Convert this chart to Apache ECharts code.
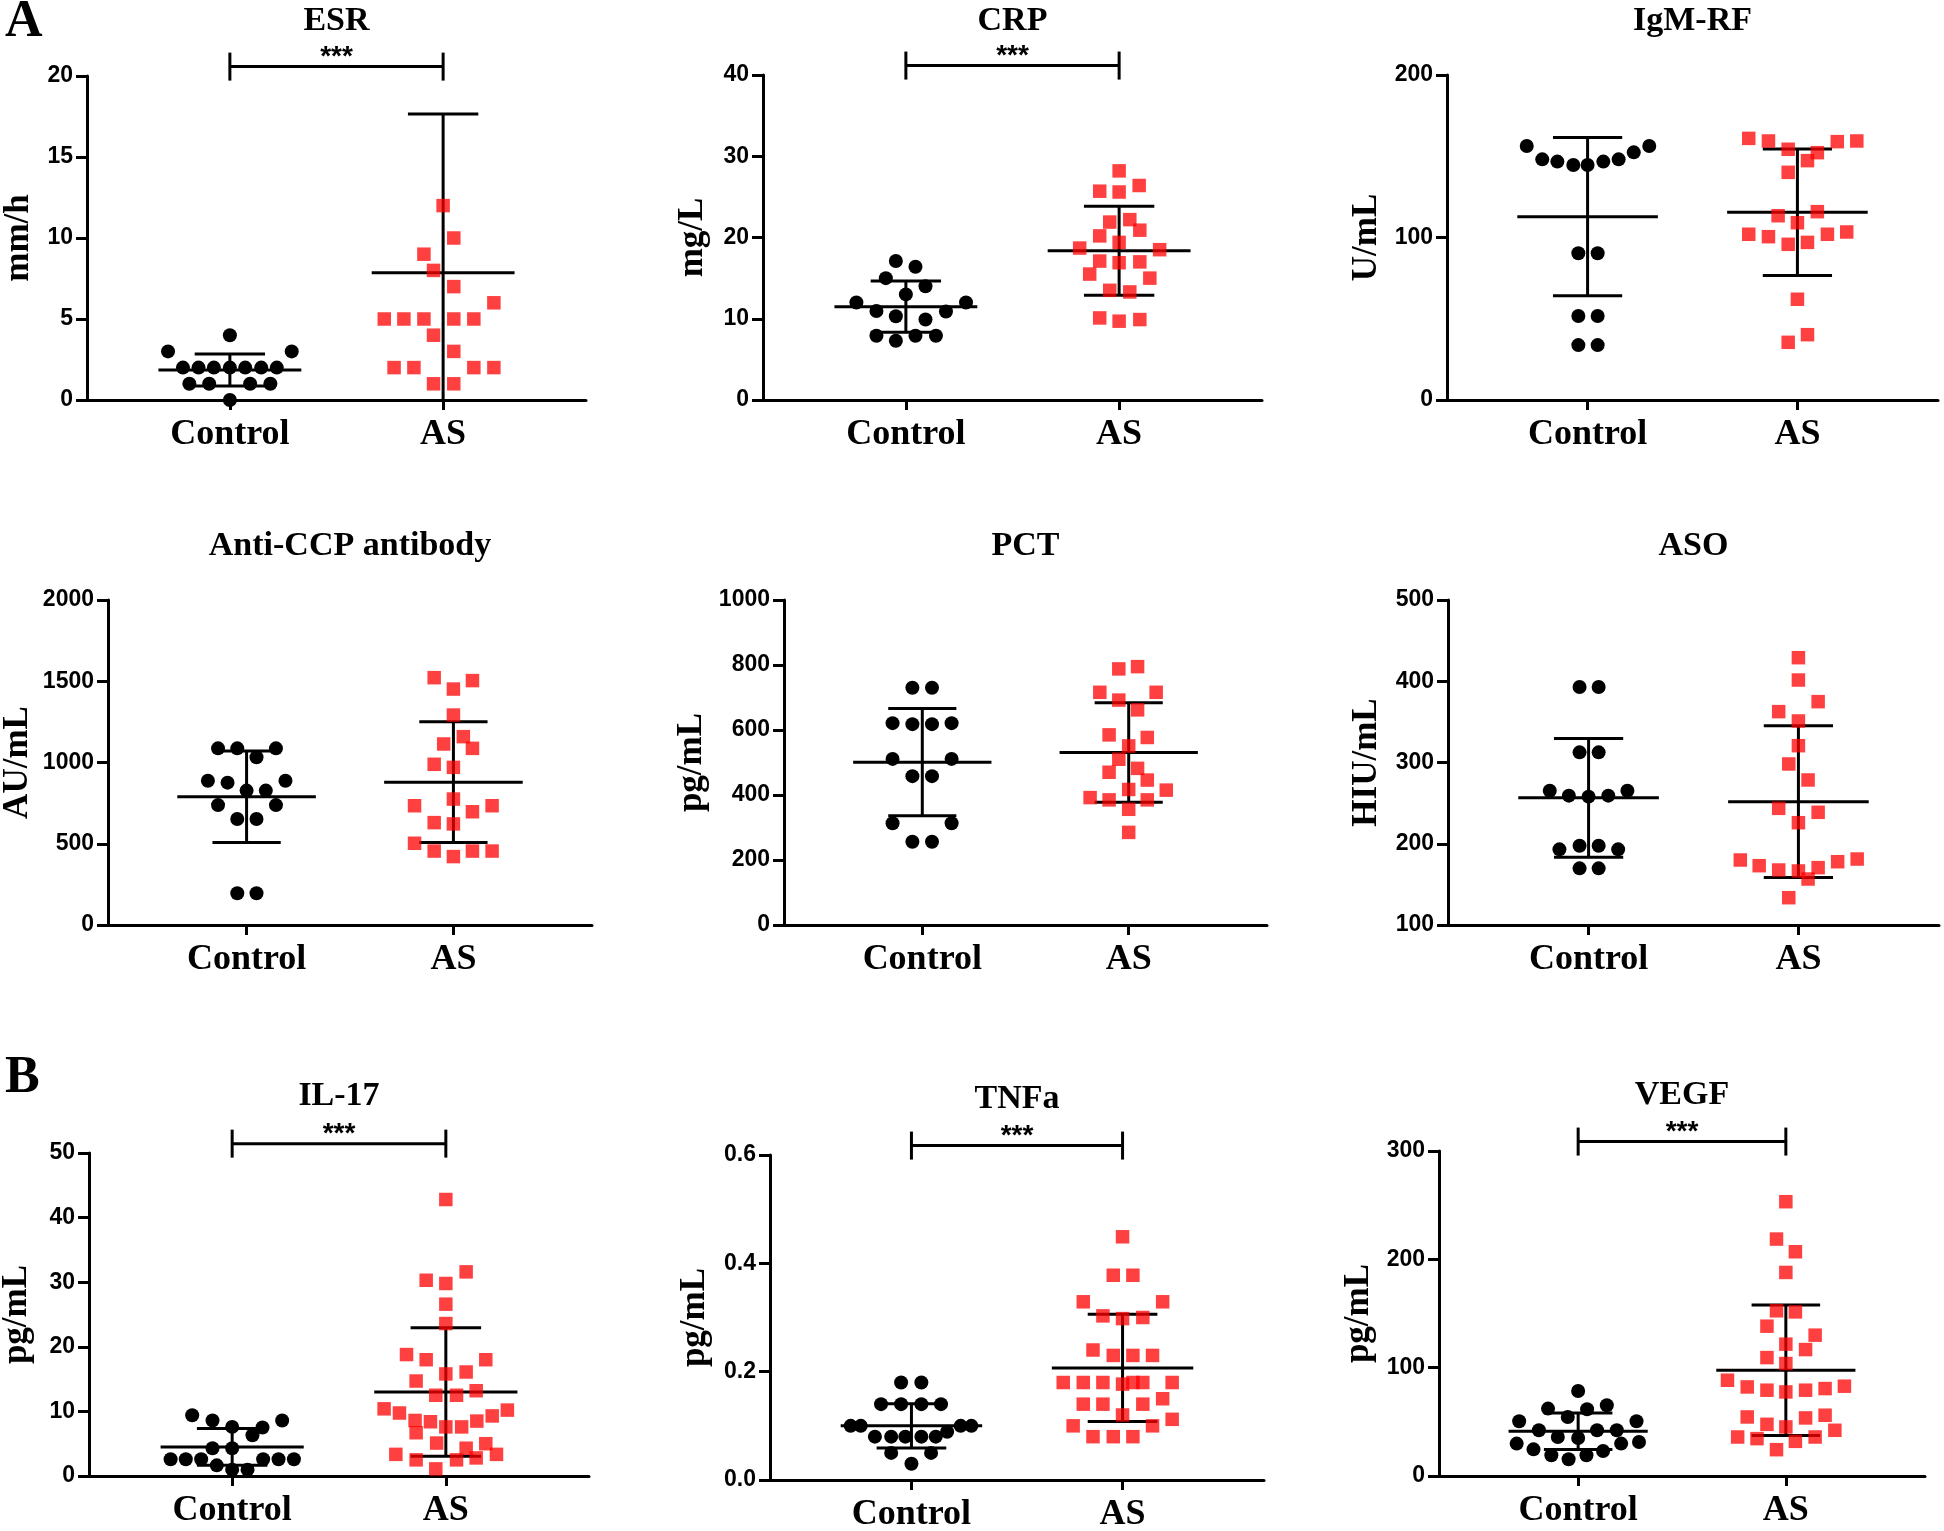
<!DOCTYPE html>
<html>
<head>
<meta charset="utf-8">
<script src="https://cdn.jsdelivr.net/npm/echarts@6/dist/echarts.min.js"></script>
<style>
html,body{margin:0;padding:0;background:#fff;}
#chart{width:1944px;height:1531px;}
</style>
</head>
<body>
<div id="chart"></div>
<script>
// ---------- DATA ----------
const groups = ['Control', 'AS'];

// ESR (mm/h)
const esrControl = [4, 3, 3, 2, 2, 2, 2, 2, 2, 2, 1, 1, 1, 1, 0];
const esrControlJitter = [0, -0.29, 0.29, -0.22, -0.147, -0.075, 0, 0.072, 0.147, 0.22, -0.19, -0.097, 0.095, 0.19, 0];
const esrAS = [12, 10, 9, 8, 7, 6, 5, 5, 5, 5, 5, 4, 3, 2, 2, 2, 2, 1, 1];
const esrASJitter = [0, 0.05, -0.09, -0.045, 0.05, 0.238, -0.276, -0.184, -0.09, 0.05, 0.144, -0.045, 0.05, -0.23, -0.137, 0.144, 0.238, -0.045, 0.05];
const esrMean = [1.85, 7.86];
const esrSD = [0.99, 9.8];
const esrTicks = [0, 5, 10, 15, 20];

// CRP (mg/L)
const crpControl = [17.1, 16.4, 15.0, 14.0, 13.0, 12.0, 12.0, 10.95, 10.9, 10.3, 9.9, 7.9, 7.9, 7.9, 7.3];
const crpControlJitter = [-0.047, 0.045, -0.094, 0.092, 0, -0.232, 0.282, -0.138, 0.188, -0.047, 0.092, -0.138, 0.045, 0.141, -0.047];
const crpAS = [28.2, 25.7, 25.6, 26.4, 21.9, 22.2, 20.9, 20.2, 19.4, 18.7, 18.5, 17.1, 16.9, 17.0, 15.5, 15.0, 13.5, 13.3, 10.1, 9.7, 9.9];
const crpASJitter = [0, -0.091, 0, 0.094, -0.044, 0.05, 0.097, -0.091, 0, -0.185, 0.19, -0.091, 0, 0.097, -0.138, 0.144, -0.044, 0.05, -0.091, 0, 0.097];
const crpMean = [11.49, 18.38];
const crpSD = [3.16, 5.48];
const crpTicks = [0, 10, 20, 30, 40];

// IgM-RF (U/mL)
const igmControl = [156.3, 148.1, 146.7, 144.6, 144.6, 146.7, 148.1, 152.4, 156.3, 90.3, 90.3, 51.7, 51.7, 33.8, 33.8];
const igmControlJitter = [-0.29, -0.216, -0.144, -0.068, 0, 0.075, 0.148, 0.22, 0.294, -0.044, 0.048, -0.044, 0.048, -0.044, 0.048];
const igmAS = [161.0, 159.4, 154.3, 152.2, 159.0, 159.4, 147.3, 140.1, 113.4, 115.9, 109.1, 102.0, 100.5, 95.8, 97.0, 102.0, 103.4, 62.0, 40.2, 35.5];
const igmASJitter = [-0.232, -0.138, -0.044, 0.095, 0.19, 0.283, 0.048, -0.044, -0.092, 0.095, 0, -0.232, -0.138, -0.044, 0.048, 0.143, 0.235, 0, 0.048, -0.044];
const igmMean = [112.8, 115.5];
const igmSD = [48.7, 38.9];
const igmTicks = [0, 100, 200];

// Anti-CCP antibody (AU/mL)
const ccpControl = [1087, 1087, 1087, 1032, 888, 876, 888, 827, 827, 738, 738, 652, 652, 195, 195];
const ccpControlJitter = [-0.138, -0.045, 0.142, 0.048, -0.187, -0.092, 0.188, 0, 0.093, -0.138, 0.142, -0.045, 0.048, -0.045, 0.048];
const ccpAS = [1522, 1504, 1452, 1292, 1159, 1114, 1087, 989, 970, 775, 734, 734, 697, 630, 622, 503, 455, 455, 455, 421];
const ccpASJitter = [-0.093, 0.092, 0, 0, 0.048, -0.047, 0.092, -0.093, 0, 0, -0.188, 0.187, 0.092, -0.093, 0, -0.188, -0.093, 0.092, 0.187, 0];
const ccpMean = [789, 879];
const ccpSD = [282, 372];
const ccpTicks = [0, 500, 1000, 1500, 2000];

// PCT (pg/mL)
const pctControl = [730, 730, 621, 618, 618, 621, 511, 511, 458, 458, 313, 313, 256, 256];
const pctControlJitter = [-0.048, 0.047, -0.144, -0.048, 0.047, 0.142, -0.144, 0.142, -0.048, 0.047, -0.144, 0.142, -0.048, 0.047];
const pctAS = [788, 795, 716, 716, 692, 662, 585, 577, 551, 510, 482, 470, 446, 417, 415, 392, 385, 385, 356, 285];
const pctASJitter = [-0.048, 0.043, -0.14, 0.133, -0.048, 0.043, -0.095, 0.09, 0, -0.048, 0.043, -0.095, 0.09, 0, 0.182, -0.187, -0.095, 0.09, 0, 0];
const pctMean = [501, 531];
const pctSD = [165, 153];
const pctTicks = [0, 200, 400, 600, 800, 1000];

// ASO (HIU/mL)
const asoControl = [393, 393, 312.5, 312.5, 265.3, 265.3, 259.2, 258, 259.2, 197.6, 197.6, 193.1, 193.1, 169.7, 169.7];
const asoControlJitter = [-0.043, 0.048, -0.043, 0.048, -0.185, 0.185, -0.094, 0, 0.094, -0.043, 0.048, -0.139, 0.141, -0.043, 0.048];
const asoAS = [429, 401.5, 374.9, 362.6, 351.1, 320.7, 298.2, 278.5, 243.6, 238.7, 225.9, 180, 181.2, 177.9, 173, 167.7, 166.5, 170.6, 156.6, 133.6];
const asoASJitter = [0, 0, 0.094, -0.094, 0, 0, -0.046, 0.046, -0.094, 0.094, 0, -0.277, 0.28, 0.187, -0.187, -0.094, 0, 0.094, 0.046, -0.046];
const asoMean = [256.5, 251.8];
const asoSD = [73, 93.3];
const asoTicks = [100, 200, 300, 400, 500];

// IL-17 (pg/mL)
const il17Control = [9.4, 8.6, 8.6, 7.6, 7.5, 6.3, 4.3, 4.3, 2.6, 2.6, 2.6, 2.6, 2.6, 2.6, 1.65, 0.98, 0.98];
const il17ControlJitter = [-0.187, -0.092, 0.234, 0, 0.142, 0.095, -0.092, 0, -0.288, -0.217, -0.145, 0.145, 0.217, 0.289, -0.072, 0, 0.072];
const il17AS = [42.8, 31.6, 30.3, 29.8, 26.6, 23.6, 18.8, 18.0, 18.0, 15.8, 16.1, 14.7, 12.5, 12.5, 13.2, 10.4, 9.75, 10.2, 9.3, 8.6, 8.4, 8.5, 7.6, 7.6, 6.7, 5.1, 4.3, 5.0, 3.35, 3.35, 2.5, 2.5, 2.8, 1.1];
const il17ASJitter = [0, 0.095, -0.092, 0, 0, 0, -0.184, -0.092, 0.187, 0, 0.095, -0.139, -0.047, 0.05, 0.142, -0.289, -0.217, 0.288, 0.217, -0.144, -0.072, 0.145, 0, 0.074, -0.139, -0.043, 0.095, 0.187, -0.234, 0.237, -0.139, 0.05, 0.142, -0.047];
const il17Mean = [4.5, 13.0];
const il17SD = [2.84, 9.96];
const il17Ticks = [0, 10, 20, 30, 40, 50];

// TNFa (pg/mL)
const tnfControl = [0.18, 0.18, 0.14, 0.14, 0.14, 0.14, 0.1, 0.1, 0.1, 0.1, 0.089, 0.08, 0.08, 0.08, 0.08, 0.08, 0.05, 0.05, 0.03];
const tnfControlJitter = [-0.049, 0.047, -0.144, -0.049, 0.047, 0.14, -0.288, -0.24, 0.233, 0.284, 0.169, -0.173, -0.096, -0.029, 0.047, 0.115, -0.096, 0.093, 0];
const tnfAS = [0.449, 0.378, 0.378, 0.329, 0.329, 0.303, 0.298, 0.30, 0.24, 0.23, 0.23, 0.23, 0.18, 0.18, 0.18, 0.177, 0.18, 0.18, 0.18, 0.14, 0.14, 0.14, 0.15, 0.12, 0.1, 0.1, 0.112, 0.08, 0.08, 0.08];
const tnfASJitter = [0, -0.044, 0.049, -0.186, 0.19, -0.093, 0, 0.096, -0.14, -0.044, 0.049, 0.142, -0.281, -0.186, -0.093, 0, 0.049, 0.096, 0.235, -0.186, -0.093, 0.096, 0.19, 0, -0.234, 0.142, 0.235, -0.14, -0.044, 0.049];
const tnfMean = [0.1, 0.207];
const tnfSD = [0.041, 0.099];
const tnfTicks = [0, 0.2, 0.4, 0.6];

// VEGF (pg/mL)
const vegfControl = [78.5, 62.2, 61.6, 65.3, 54.5, 50.5, 50.5, 42.2, 42.2, 42.2, 36.0, 35.1, 29.9, 29.9, 31.4, 24.6, 23.1, 19.1, 19.1, 15.4];
const vegfControlJitter = [0, -0.145, 0.043, 0.138, -0.05, -0.284, 0.281, -0.189, 0.091, 0.186, -0.098, 0, -0.296, 0.207, 0.293, -0.215, 0.12, -0.129, 0.04, -0.046];
const vegfAS = [253.2, 218.7, 207.0, 187.9, 152.5, 151.5, 138.3, 130.0, 121.7, 116.7, 109.3, 103.8, 88.4, 82.2, 79.2, 77.6, 79.2, 80.7, 82.9, 54.5, 53.6, 56.1, 47.7, 45.3, 42.2, 36.0, 34.5, 32.0, 36.0, 24.3];
const vegfASJitter = [0, -0.045, 0.046, 0, -0.045, 0.046, -0.091, 0.141, 0, 0.095, -0.091, 0, -0.281, -0.186, -0.091, 0, 0.095, 0.189, 0.282, -0.186, 0.095, 0.189, -0.091, 0, 0.236, -0.232, -0.139, 0.046, 0.141, -0.045];
const vegfMean = [41.3, 97.6];
const vegfSD = [16.9, 60.3];
const vegfTicks = [0, 100, 200, 300];

const panelTitles = ['ESR', 'CRP', 'IgM-RF', 'Anti-CCP antibody', 'PCT', 'ASO', 'IL-17', 'TNFa', 'VEGF'];
const panelUnits = ['mm/h', 'mg/L', 'U/mL', 'AU/mL', 'pg/mL', 'HIU/mL', 'pg/mL', 'pg/mL', 'pg/mL'];
const significance = ['***', '***', '', '', '', '', '***', '***', '***'];

// ---------- LAYOUT / STYLE ----------
const panels = [
  {c: esrControl, cj: esrControlJitter, a: esrAS, aj: esrASJitter, m: esrMean, s: esrSD, t: esrTicks},
  {c: crpControl, cj: crpControlJitter, a: crpAS, aj: crpASJitter, m: crpMean, s: crpSD, t: crpTicks},
  {c: igmControl, cj: igmControlJitter, a: igmAS, aj: igmASJitter, m: igmMean, s: igmSD, t: igmTicks},
  {c: ccpControl, cj: ccpControlJitter, a: ccpAS, aj: ccpASJitter, m: ccpMean, s: ccpSD, t: ccpTicks},
  {c: pctControl, cj: pctControlJitter, a: pctAS, aj: pctASJitter, m: pctMean, s: pctSD, t: pctTicks},
  {c: asoControl, cj: asoControlJitter, a: asoAS, aj: asoASJitter, m: asoMean, s: asoSD, t: asoTicks},
  {c: il17Control, cj: il17ControlJitter, a: il17AS, aj: il17ASJitter, m: il17Mean, s: il17SD, t: il17Ticks},
  {c: tnfControl, cj: tnfControlJitter, a: tnfAS, aj: tnfASJitter, m: tnfMean, s: tnfSD, t: tnfTicks},
  {c: vegfControl, cj: vegfControlJitter, a: vegfAS, aj: vegfASJitter, m: vegfMean, s: vegfSD, t: vegfTicks}
];

const boxes = [
  [87, 76, 499, 324], [763, 75, 499, 325], [1447, 75, 491, 325],
  [108, 600, 484, 325], [784, 600, 483, 325], [1448, 600, 491, 325],
  [89, 1153, 500, 323], [770, 1155, 494, 325], [1439, 1151, 486, 325]
];
const nameGaps = [51, 53, 63, 73, 75, 64, 55, 58, 63];
const titleY = [21, 21, 21, 546, 546, 546, 1096, 1099, 1095];

const SERIF = '"Liberation Serif", "Times New Roman", serif';
const SANS = '"Liberation Sans", Arial, sans-serif';
const LW = 3;
const XMIN = 0.33, XMAX = 2.67;

function seg(x1, y1, x2, y2) {
  return {type: 'line', shape: {x1, y1, x2, y2}, style: {stroke: '#000', lineWidth: LW, lineCap: 'butt'}};
}

function errorBarRender(params, api) {
  const g = api.value(0), m = api.value(1), s = api.value(2), yMin = api.value(3);
  const c = api.coord([g, m]);
  const hi = api.coord([g, m + s]);
  const loV = Math.max(m - s, yMin);
  const lo = api.coord([g, loV]);
  const halfMean = api.size([0.335, 0])[0];
  const halfCap = api.size([0.165, 0])[0];
  const children = [
    seg(c[0] - halfMean, c[1], c[0] + halfMean, c[1]),
    seg(c[0], hi[1], c[0], lo[1]),
    seg(c[0] - halfCap, hi[1], c[0] + halfCap, hi[1])
  ];
  if (m - s >= yMin) children.push(seg(c[0] - halfCap, lo[1], c[0] + halfCap, lo[1]));
  return {type: 'group', children};
}

function makeBracketRender(label) {
  return function (params, api) {
    const y = api.value(2);
    const a = api.coord([api.value(0), y]);
    const b = api.coord([api.value(1), y]);
    const cap = 14;
    return {type: 'group', children: [
      seg(a[0], a[1], b[0], b[1]),
      seg(a[0], a[1] - cap, a[0], a[1] + cap),
      seg(b[0], b[1] - cap, b[0], b[1] + cap),
      {type: 'text', style: {text: label, x: (a[0] + b[0]) / 2, y: a[1] + 5,
        align: 'center', verticalAlign: 'bottom', font: 'bold 28px ' + SANS, fill: '#000'}}
    ]};
  };
}

const grid = [], xAxis = [], yAxis = [], series = [], graphic = [];

panels.forEach((p, i) => {
  const [l, t, w, h] = boxes[i];
  const yMin = p.t[0], yMax = p.t[p.t.length - 1];
  const interval = p.t[1] - p.t[0];
  const decimals = yMax < 1 ? 1 : 0;
  grid.push({left: l, top: t, width: w, height: h, containLabel: false, outerBoundsMode: 'none'});
  xAxis.push({
    gridIndex: i, type: 'value', min: XMIN, max: XMAX,
    axisLine: {show: true, onZero: false, lineStyle: {color: '#000', width: LW}},
    axisTick: {show: true, customValues: [1, 2], length: 10, lineStyle: {color: '#000', width: LW}},
    axisLabel: {show: true, customValues: [1, 2], formatter: v => groups[Math.round(v) - 1] || '', margin: 17,
      fontFamily: SERIF, fontWeight: 'bold', fontSize: 36, color: '#000'},
    splitLine: {show: false}
  });
  yAxis.push({
    gridIndex: i, type: 'value', min: yMin, max: yMax, interval: interval,
    name: panelUnits[i], nameLocation: 'middle', nameGap: nameGaps[i],
    nameTextStyle: {fontFamily: SERIF, fontWeight: 'bold', fontSize: 35, color: '#000'},
    axisLine: {show: true, onZero: false, lineStyle: {color: '#000', width: LW}},
    axisTick: {show: true, length: 11, lineStyle: {color: '#000', width: LW}},
    axisLabel: {show: true, margin: 14, fontFamily: SANS, fontWeight: 'bold', fontSize: 23, color: '#000',
      formatter: v => v.toFixed(decimals)},
    splitLine: {show: false}
  });
  series.push({
    type: 'custom', xAxisIndex: i, yAxisIndex: i, renderItem: errorBarRender, z: 2, silent: true,
    data: [[1, p.m[0], p.s[0], yMin], [2, p.m[1], p.s[1], yMin]]
  });
  if (significance[i]) {
    const by = yMax + 0.029 * (yMax - yMin);
    series.push({
      type: 'custom', xAxisIndex: i, yAxisIndex: i, renderItem: makeBracketRender(significance[i]), z: 2, silent: true, clip: false,
      data: [[1, 2, by]]
    });
  }
  series.push({
    type: 'scatter', xAxisIndex: i, yAxisIndex: i, symbol: 'circle', symbolSize: 14, z: 3, clip: false,
    itemStyle: {color: '#000', opacity: 1},
    data: p.c.map((v, k) => [1 + p.cj[k], v])
  });
  series.push({
    type: 'scatter', xAxisIndex: i, yAxisIndex: i, symbol: 'rect', symbolSize: 13.5, z: 4, clip: false,
    itemStyle: {color: 'rgba(255,0,0,0.75)', opacity: 1},
    data: p.a.map((v, k) => [2 + p.aj[k], v])
  });
  graphic.push({
    type: 'text', x: l + w / 2, y: titleY[i],
    style: {text: panelTitles[i], font: 'bold 34px ' + SERIF, fill: '#000', align: 'center', verticalAlign: 'middle'}
  });
});

graphic.push({type: 'text', x: 5, y: 23, style: {text: 'A', font: 'bold 52px ' + SERIF, fill: '#000', align: 'left', verticalAlign: 'middle'}});
graphic.push({type: 'text', x: 5, y: 1079, style: {text: 'B', font: 'bold 52px ' + SERIF, fill: '#000', align: 'left', verticalAlign: 'middle'}});

const chart = echarts.init(document.getElementById('chart'), null, {renderer: 'canvas'});
chart.setOption({
  animation: false,
  backgroundColor: '#fff',
  grid, xAxis, yAxis, series, graphic
});
</script>
</body>
</html>
